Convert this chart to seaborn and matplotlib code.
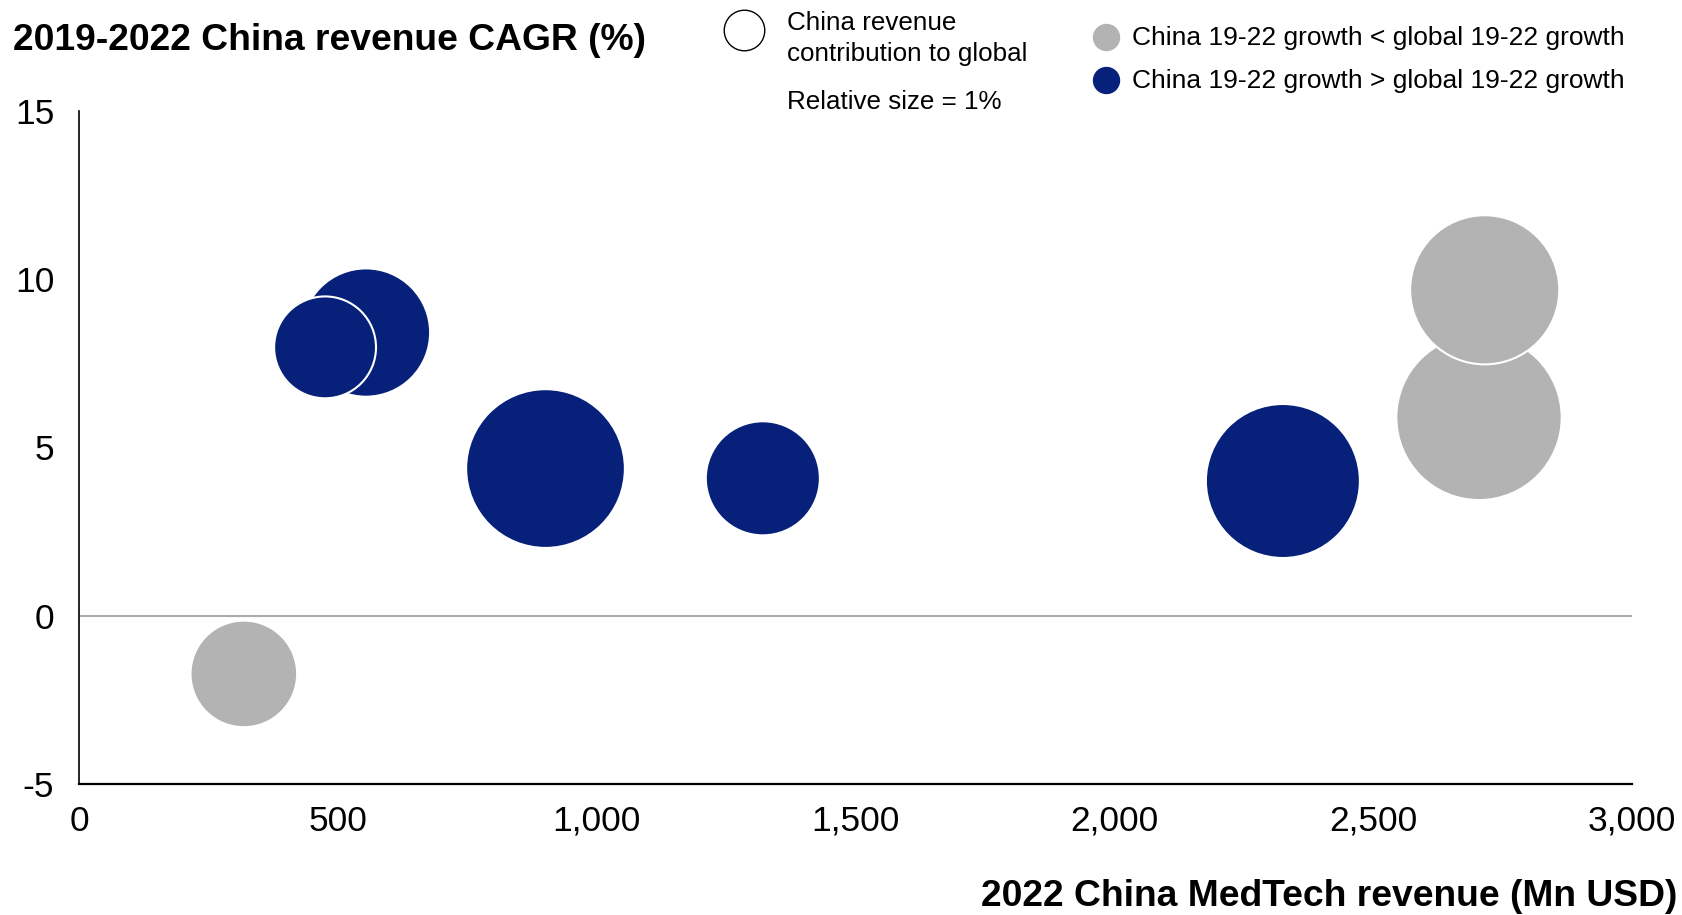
import matplotlib
matplotlib.use("Agg")
import matplotlib.pyplot as plt
import matplotlib.ticker as mticker
from matplotlib.lines import Line2D
import seaborn as sns
import pandas as pd

# ---- data ----
revenue = [318, 554, 475, 901, 1321, 2326, 2705, 2716]          # 2022 China MedTech revenue (Mn USD)
cagr = [-1.73, 8.41, 7.97, 4.37, 4.08, 4.00, 5.89, 9.68]        # 2019-2022 China revenue CAGR (%)
contribution = [6.9, 10.0, 6.3, 15.3, 7.9, 14.4, 16.6, 13.5]    # China revenue contribution to global (%)
LOW = "China 19-22 growth < global 19-22 growth"
HIGH = "China 19-22 growth > global 19-22 growth"
group = [LOW, HIGH, HIGH, HIGH, HIGH, HIGH, LOW, LOW]
x_ticks = [0, 500, 1000, 1500, 2000, 2500, 3000]
y_ticks = [-5, 0, 5, 10, 15]

BLUE = "#07217A"
GREY = "#B3B3B3"

df = pd.DataFrame({"revenue": revenue, "cagr": cagr,
                   "contribution": contribution, "group": group})

sns.set_style("white")
plt.rcParams["font.family"] = ["Liberation Sans", "DejaVu Sans"]
plt.rcParams["axes.unicode_minus"] = False
plt.rcParams["text.color"] = "black"
plt.rcParams["xtick.color"] = "black"
plt.rcParams["ytick.color"] = "black"

fig = plt.figure(figsize=(16.83, 9.15), dpi=100)
ax = fig.add_axes([0.0471, 0.1432, 0.9224, 0.7358])

S_PER_PCT = 854.0  # marker area (pt^2) for 1% contribution
ax.axhline(0, color="#ABABAB", lw=1.5, zorder=1)
sns.scatterplot(data=df, x="revenue", y="cagr", hue="group", size="contribution",
                palette={LOW: GREY, HIGH: BLUE},
                sizes=(0, S_PER_PCT * 20), size_norm=(0, 20),
                edgecolor="white", linewidth=1.5, alpha=1, legend=False,
                ax=ax, zorder=3)

ax.set_xlim(0, 3000)
ax.set_ylim(-5, 15)
ax.set_xticks(x_ticks)
ax.set_yticks(y_ticks)
ax.xaxis.set_major_formatter(mticker.FuncFormatter(lambda v, p: f"{int(v):,}"))
ax.tick_params(axis="both", length=0, labelsize=25.5, colors="black")
ax.tick_params(axis="y", pad=18)
ax.tick_params(axis="x", pad=15)
ax.set_xlabel("")
ax.set_ylabel("")
for s in ["top", "right"]:
    ax.spines[s].set_visible(False)
ax.spines["left"].set_color("black")
ax.spines["left"].set_linewidth(1.2)
ax.spines["bottom"].set_color("black")
ax.spines["bottom"].set_linewidth(1.6)
ax.grid(False)

W, H = 1683, 915
def fx(px): return px / W
def fy(py): return 1 - py / H

# titles
fig.text(fx(13), fy(40), "2019-2022 China revenue CAGR (%)", fontsize=26.8,
         fontweight="bold", ha="left", va="center", color="black")
fig.text(fx(1677), fy(896), "2022 China MedTech revenue (Mn USD)", fontsize=26.8,
         fontweight="bold", ha="right", va="center", color="black")

# size legend
fig.add_artist(Line2D([fx(743.7)], [fy(29.7)], marker="o", markersize=29.2,
                      markerfacecolor="white", markeredgecolor="black",
                      markeredgewidth=1.0, linestyle="none", transform=fig.transFigure))
fig.text(fx(787), fy(22.5), "China revenue", fontsize=18.7, ha="left", va="center")
fig.text(fx(787), fy(54), "contribution to global", fontsize=18.7, ha="left", va="center")
fig.text(fx(787), fy(102), "Relative size = 1%", fontsize=18.7, ha="left", va="center")

# colour legend
for yy, col, lab in [(37, GREY, LOW), (79.5, BLUE, HIGH)]:
    fig.add_artist(Line2D([fx(1106)], [fy(yy)], marker="o", markersize=18.7,
                          markerfacecolor=col, markeredgecolor=col,
                          linestyle="none", transform=fig.transFigure))
    fig.text(fx(1132), fy(yy + 1.5), lab, fontsize=19, ha="left", va="center")

fig.savefig("out.png", dpi=100)
